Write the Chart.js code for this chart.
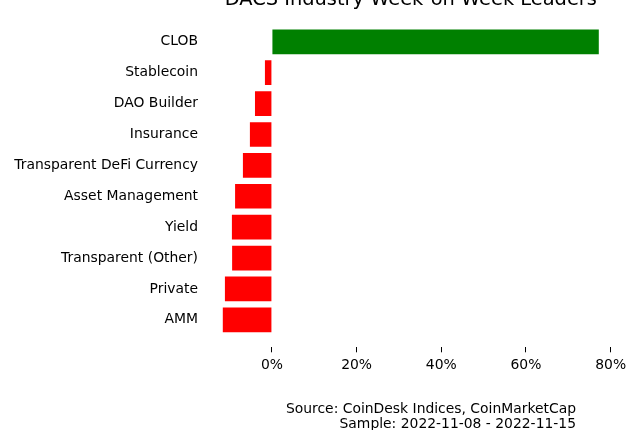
<!DOCTYPE html>
<html>
<head>
<meta charset="utf-8">
<script src="https://cdn.jsdelivr.net/npm/chart.js@4"></script>
<style>
  html, body { margin: 0; padding: 0; background: #fff; }
  #wrap { width: 640px; height: 430px; position: relative; }
</style>
</head>
<body>
<div id="wrap"><canvas id="c" width="640" height="430"></canvas></div>
<script>
const titleText = "DACS Industry Week-on-Week Leaders";
const sourceLines = ["Source: CoinDesk Indices, CoinMarketCap", "Sample: 2022-11-08 - 2022-11-15"];
const categories = ["CLOB", "Stablecoin", "DAO Builder", "Insurance", "Transparent DeFi Currency",
                    "Asset Management", "Yield", "Transparent (Other)", "Private", "AMM"];
const values = [77.2, -1.65, -4.0, -5.2, -6.85, -8.7, -9.45, -9.4, -11.1, -11.6];
const xTicks = [0, 20, 40, 60, 80];

const FONT = "'DejaVu Sans', sans-serif";

const textPlugin = {
  id: 'textPlugin',
  afterDraw(chart) {
    const ctx = chart.ctx;
    const a = chart.chartArea;
    ctx.save();
    ctx.fillStyle = '#000';
    ctx.font = "19.4px " + FONT;
    ctx.textAlign = 'center';
    ctx.textBaseline = 'alphabetic';
    ctx.fillText(titleText, (a.left + a.right) / 2, 5);
    ctx.font = "13.9px " + FONT;
    ctx.textAlign = 'right';
    ctx.fillText(sourceLines[0], 576, 412.5);
    ctx.fillText(sourceLines[1], 576, 427.5);
    ctx.restore();
  }
};

new Chart(document.getElementById('c'), {
  type: 'bar',
  data: {
    datasets: [{
      data: values.map((v, i) => ({ x: v, y: i })),
      backgroundColor: values.map(v => v >= 0 ? '#008000' : '#ff0000'),
      borderWidth: 0,
      barPercentage: 0.8,
      categoryPercentage: 1.0
    }]
  },
  options: {
    indexAxis: 'y',
    responsive: false,
    animation: false,
    events: [],
    layout: { padding: { top: 13.4, right: 22.4, left: 0, bottom: 0 } },
    plugins: { legend: { display: false }, tooltip: { enabled: false }, title: { display: false } },
    scales: {
      x: {
        type: 'linear',
        min: -16.04,
        max: 81.64,
        afterBuildTicks: s => { s.ticks = xTicks.map(v => ({ value: v })); },
        afterFit: s => { s.height = 82.7; },
        border: { display: false },
        grid: { display: true, drawOnChartArea: false, drawTicks: true, tickLength: 5, color: '#000', lineWidth: 1 },
        ticks: { callback: v => v + '%', color: '#000', font: { family: FONT, size: 13.9 }, padding: 5, maxRotation: 0, autoSkip: false }
      },
      y: {
        type: 'linear',
        offset: false,
        reverse: true,
        min: -0.89,
        max: 9.89,
        afterBuildTicks: s => { s.ticks = categories.map((c, i) => ({ value: i })); },
        afterFit: s => { s.width = 204; },
        border: { display: false },
        grid: { display: false, drawTicks: false },
        ticks: { callback: v => categories[v], color: '#000', font: { family: FONT, size: 13.9 }, padding: 6, autoSkip: false }
      }
    }
  },
  plugins: [textPlugin]
});
</script>
</body>
</html>
